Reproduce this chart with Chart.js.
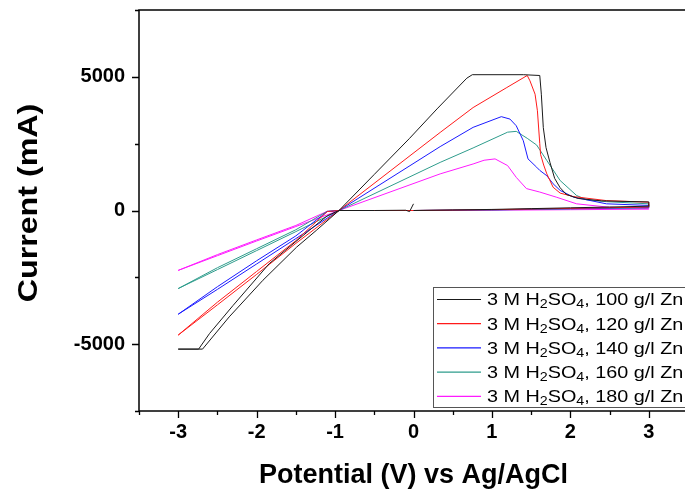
<!DOCTYPE html>
<html>
<head>
<meta charset="utf-8">
<script src="https://cdn.jsdelivr.net/npm/chart.js@4"></script>
<style>
html,body{margin:0;padding:0;overflow:hidden;background:#fff}
canvas{display:block}
</style>
</head>
<body>
<canvas id="cvChart" width="700" height="497"></canvas>
<script>
// legend labels + colours
const seriesLabels=["3 M H₂SO₄, 100 g/l Zn","3 M H₂SO₄, 120 g/l Zn","3 M H₂SO₄, 140 g/l Zn","3 M H₂SO₄, 160 g/l Zn","3 M H₂SO₄, 180 g/l Zn"];
const seriesColors=["#1a1a1a","#ff1a1a","#1a1aff","#2e9c8c","#ff1aff"];

const zn100V=[0,0.5,1.0,1.5,2.0,2.5,3.0,3.0,2.4,2.1,1.95,1.87,1.80,1.74,1.69,1.655,1.63,1.61,1.4,0.75,0.68,0.3,-0.05,-0.5,-0.95,-1.24,-1.49,-1.92,-2.35,-2.69,-3.0,-2.74,-2.6,-2.3,-1.84,-1.33,-1.1,-0.95,-0.5,-0.1,-0.05,0.0];
const zn100I=[0,20,40,70,100,130,160,320,360,450,600,850,1200,1800,2350,3100,4350,5050,5080,5080,4950,3800,2700,1350,0,-746,-1370,-2610,-3980,-5185,-5185,-5185,-4600,-3550,-1990,-746,-200,0,0,10,-40,250];

const zn120V=[0,1.0,2.0,3.0,3.0,2.46,2.04,1.87,1.78,1.70,1.66,1.62,1.61,1.58,1.55,1.485,1.45,1.19,0.76,0.34,-0.95,-1.5,-2.0,-2.5,-3.0,-2.5,-2.0,-1.5,-1.1,-0.95,0];
const zn120I=[0,30,80,130,310,370,520,650,870,1370,1700,2100,2500,3730,4350,4850,5050,4600,3850,2920,0,-1230,-2390,-3530,-4660,-3430,-2280,-1130,-40,0,0];

const zn140V=[0,1.0,2.0,3.0,3.0,2.46,2.04,1.87,1.78,1.70,1.61,1.57,1.46,1.40,1.31,1.23,1.12,0.76,0.34,-0.95,-1.5,-2.0,-2.5,-3.0,-2.5,-2.0,-1.5,-1.1,-0.95,0];
const zn140I=[0,25,70,110,190,250,500,750,1000,1300,1500,1620,1930,2610,3170,3420,3510,3110,2390,0,-1050,-2000,-2950,-3880,-2850,-1880,-950,-40,0,0];

const zn160V=[0,1.0,2.0,3.0,3.0,2.46,2.21,2.08,1.87,1.70,1.57,1.45,1.31,1.2,0.76,0.34,-0.95,-1.5,-2.0,-2.5,-3.0,-2.5,-2.0,-1.5,-1.1,-0.95,0];
const zn160I=[0,20,60,100,250,330,400,560,1120,1870,2450,2700,2960,2930,2340,1800,0,-790,-1500,-2210,-2920,-2140,-1430,-720,-30,0,0];

const zn180V=[0,1.0,2.0,3.0,3.0,2.5,2.08,1.82,1.61,1.44,1.31,1.2,1.04,0.9,0.76,0.34,-0.95,-1.5,-2.0,-2.5,-3.0,-2.5,-2.0,-1.5,-1.1,-0.95,0];
const zn180I=[0,10,30,50,70,120,250,500,690,820,1240,1680,1930,1880,1740,1370,0,-600,-1140,-1690,-2240,-1650,-1100,-560,-30,0,0];

// axis ticks
const xTicks=[-3,-2,-1,0,1,2,3];
const xMinor=[-3.5,-2.5,-1.5,-0.5,0.5,1.5,2.5,3.5];
const yTicks=[-5000,0,5000];
const yMinor=[-7500,-2500,2500,7500];

const allV=[zn100V,zn120V,zn140V,zn160V,zn180V];
const allI=[zn100I,zn120I,zn140I,zn160I,zn180I];

const datasets=allV.map((v,k)=>({
    label:seriesLabels[k],
    data:v.map((x,i)=>({x:x,y:allI[k][i]})),
    showLine:true,
    borderColor:seriesColors[k],
    borderWidth:1,
    pointRadius:0,
    tension:0
}));

const FONT="'Liberation Sans', Arial, sans-serif";

// draws the box, tick marks, y title and the legend
const framePlugin={
    id:"frame",
    afterDraw(chart){
        const ctx=chart.ctx, a=chart.chartArea;
        const sx=chart.scales.x, sy=chart.scales.y;
        ctx.save();
        ctx.strokeStyle="#000";
        ctx.lineWidth=1.5;
        ctx.strokeRect(a.left,a.top,a.right-a.left,a.bottom-a.top);
        ctx.beginPath();
        xTicks.forEach(v=>{const p=Math.round(sx.getPixelForValue(v))+0.5; ctx.moveTo(p,a.bottom); ctx.lineTo(p,a.bottom+7);});
        xMinor.forEach(v=>{const p=Math.round(sx.getPixelForValue(v))+0.5; ctx.moveTo(p,a.bottom); ctx.lineTo(p,a.bottom+4);});
        yTicks.forEach(v=>{const p=Math.round(sy.getPixelForValue(v))+0.5; ctx.moveTo(a.left,p); ctx.lineTo(a.left-7,p);});
        yMinor.forEach(v=>{const p=Math.round(sy.getPixelForValue(v))+0.5; ctx.moveTo(a.left,p); ctx.lineTo(a.left-4,p);});
        ctx.lineWidth=1.3;
        ctx.stroke();

        // y title
        ctx.save();
        ctx.translate(29,203);
        ctx.rotate(-Math.PI/2);
        ctx.scale(1.15,1);
        ctx.font="bold 28px "+FONT;
        ctx.fillStyle="#000";
        ctx.textAlign="center";
        ctx.textBaseline="middle";
        ctx.fillText("Current (mA)",0,0);
        ctx.restore();

        // legend
        ctx.lineWidth=1;
        ctx.strokeStyle="#555";
        ctx.strokeRect(433.5,287.5,262,120);
        const fs=16.5;
        seriesLabels.forEach((lab,i)=>{
            const yc=299.5+i*24.2;
            ctx.beginPath();
            ctx.strokeStyle=seriesColors[i];
            ctx.lineWidth=1.2;
            ctx.moveTo(437,yc); ctx.lineTo(481,yc);
            ctx.stroke();
            ctx.save();
            ctx.translate(487,yc+fs*0.36);
            ctx.scale(1.2,1);
            ctx.fillStyle="#000";
            ctx.textBaseline="alphabetic";
            let x=0;
            for(const ch of lab){
                const sub="₀₁₂₃₄₅₆₇₈₉".indexOf(ch);
                if(sub>=0){
                    ctx.font=(fs*0.72)+"px "+FONT;
                    ctx.fillText(String(sub),x,3);
                    x+=ctx.measureText(String(sub)).width;
                }else{
                    ctx.font=fs+"px "+FONT;
                    ctx.fillText(ch,x,0);
                    x+=ctx.measureText(ch).width;
                }
            }
            ctx.restore();
        });
        ctx.restore();
    }
};

new Chart(document.getElementById("cvChart").getContext("2d"),{
    type:"scatter",
    data:{datasets:datasets},
    options:{
        responsive:false,
        animation:false,
        devicePixelRatio:1,
        layout:{padding:{top:10,right:12,left:0,bottom:0}},
        plugins:{legend:{display:false},tooltip:{enabled:false}},
        scales:{
            x:{
                type:"linear",min:-3.5,max:3.5,
                afterBuildTicks:s=>{s.ticks=xTicks.map(v=>({value:v}));},
                afterFit:s=>{s.height=86; s.paddingLeft=0; s.paddingRight=0;},
                grid:{display:false,drawTicks:false},
                border:{display:false},
                ticks:{color:"#000",font:{family:FONT,size:20,weight:"bold"},padding:9,callback:v=>String(v),maxRotation:0},
                title:{display:true,text:"Potential (V) vs Ag/AgCl",color:"#000",font:{family:FONT,size:27,weight:"bold"},padding:{top:0,bottom:5}}
            },
            y:{
                type:"linear",min:-7500,max:7500,
                afterBuildTicks:s=>{s.ticks=yTicks.map(v=>({value:v}));},
                afterFit:s=>{s.width=139; s.paddingTop=0; s.paddingBottom=0;},
                grid:{display:false,drawTicks:false},
                border:{display:false},
                ticks:{color:"#000",font:{family:FONT,size:20,weight:"bold"},padding:14,callback:v=>String(v)}
            }
        }
    },
    plugins:[framePlugin]
});
</script>
</body>
</html>
